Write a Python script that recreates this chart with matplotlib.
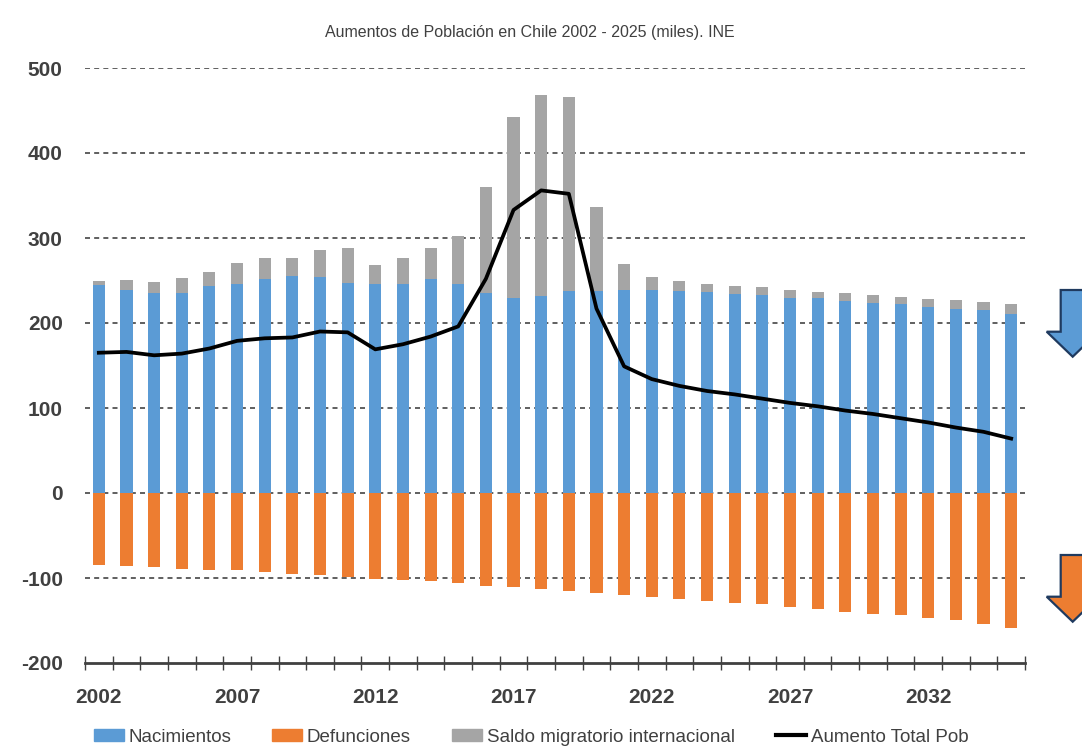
import matplotlib
matplotlib.use('Agg')
import matplotlib.pyplot as plt
import numpy as np
from matplotlib.patches import Polygon
from matplotlib.lines import Line2D

plt.rcParams['font.family'] = ['Liberation Sans', 'DejaVu Sans']
plt.rcParams['axes.unicode_minus'] = False

# miles de personas por año
years = [2002, 2003, 2004, 2005, 2006, 2007, 2008, 2009, 2010, 2011, 2012, 2013,
         2014, 2015, 2016, 2017, 2018, 2019, 2020, 2021, 2022, 2023, 2024, 2025,
         2026, 2027, 2028, 2029, 2030, 2031, 2032, 2033, 2034, 2035]
nacimientos = [245, 239, 235, 235, 243, 246, 252, 255, 254, 247, 246, 246,
               252, 246, 235, 229, 232, 238, 238, 239, 239, 238, 236, 234,
               233, 230, 229, 226, 224, 222, 219, 217, 215, 211]
defunciones = [-85, -86, -87, -89, -90, -91, -93, -95, -97, -99, -101, -102,
               -104, -106, -109, -111, -113, -115, -118, -120, -122, -125, -127, -129,
               -131, -134, -137, -140, -142, -144, -147, -149, -154, -159]
saldo_migratorio = [5, 12, 13, 18, 17, 25, 24, 22, 32, 41, 22, 31,
                    36, 56, 125, 213, 236, 228, 99, 30, 15, 11, 10, 10,
                    9, 9, 8, 9, 9, 9, 9, 10, 10, 11]
aumento_total = [165, 166, 162, 164, 170, 179, 182, 183, 190, 189, 169, 175,
                 184, 196, 252, 333, 356, 352, 217, 149, 134, 126, 120, 116,
                 111, 106, 102, 97, 93, 88, 83, 77, 72, 64]

blue = '#5B9BD5'
orange = '#ED7D31'
gray = '#A5A5A5'
text_color = '#404040'

W, H = 1082, 747
fig = plt.figure(figsize=(W / 100, H / 100), dpi=100)
ax = fig.add_axes([85 / W, 1 - 663 / H, 940 / W, 595 / H])

x = np.arange(len(years))
bw = 0.44
ax.bar(x, nacimientos, bw, color=blue, zorder=2)
ax.bar(x, defunciones, bw, color=orange, zorder=2)
ax.bar(x, saldo_migratorio, bw, bottom=nacimientos, color=gray, zorder=2)
ax.plot(x, aumento_total, color='black', lw=2.7, zorder=3)

ax.set_xlim(-0.5, len(years) - 0.5)
ax.set_ylim(-200, 500)

for v in range(-100, 501, 100):
    ax.axhline(v, color='#444444', lw=1.2, ls=(0, (3, 2.5)), zorder=1)

for s in ['top', 'right', 'left']:
    ax.spines[s].set_visible(False)
ax.spines['bottom'].set_color(text_color)
ax.spines['bottom'].set_linewidth(2)

ax.set_yticks(range(-200, 501, 100))
ax.tick_params(axis='y', length=0, pad=16, labelsize=15, labelcolor=text_color)
for lab in ax.get_yticklabels():
    lab.set_fontweight('bold')

# ticks between categories, year labels every 5 years
ax.set_xticks(np.arange(-0.5, len(years)))
ax.set_xticklabels([])
ax.tick_params(axis='x', which='major', direction='inout', length=10, width=1, color=text_color)
ax.set_xticks(x[::5], minor=True)
ax.set_xticklabels([str(y) for y in years[::5]], minor=True)
ax.tick_params(axis='x', which='minor', length=0, pad=18, labelsize=15, labelcolor=text_color)
for lab in ax.get_xticklabels(minor=True):
    lab.set_fontweight('bold')

fig.text(530 / W, 1 - 33 / H, 'Aumentos de Población en Chile 2002 - 2025 (miles). INE',
         ha='center', va='center', fontsize=11.5, color=text_color)

handles = [
    Polygon([[0, 0]], color=blue),
    Polygon([[0, 0]], color=orange),
    Polygon([[0, 0]], color=gray),
    Line2D([], [], color='black', lw=3),
]
labels = ['Nacimientos', 'Defunciones', 'Saldo migratorio internacional', 'Aumento Total Pob']
fig.legend(handles, labels, ncol=4, loc='center', bbox_to_anchor=(531 / W, 1 - 737 / H),
           frameon=False, fontsize=13.5, handlelength=1.6, handleheight=0.55,
           handletextpad=0.25, columnspacing=2.2, labelcolor=text_color)


def down_arrow(top, base, tip, fc):
    # block arrow pointing down at the right edge
    pts = [(1060.7, top), (1084.7, top), (1084.7, base), (1098.7, base),
           (1072.7, tip), (1046.7, base), (1060.7, base)]
    pts = [(px / W, 1 - py / H) for px, py in pts]
    fig.add_artist(Polygon(pts, closed=True, transform=fig.transFigure,
                           facecolor=fc, edgecolor='#1F3A5F', lw=1.6))


down_arrow(290, 331.7, 356.7, blue)
down_arrow(555, 596.7, 621.7, orange)

fig.savefig('out.png', dpi=100)
